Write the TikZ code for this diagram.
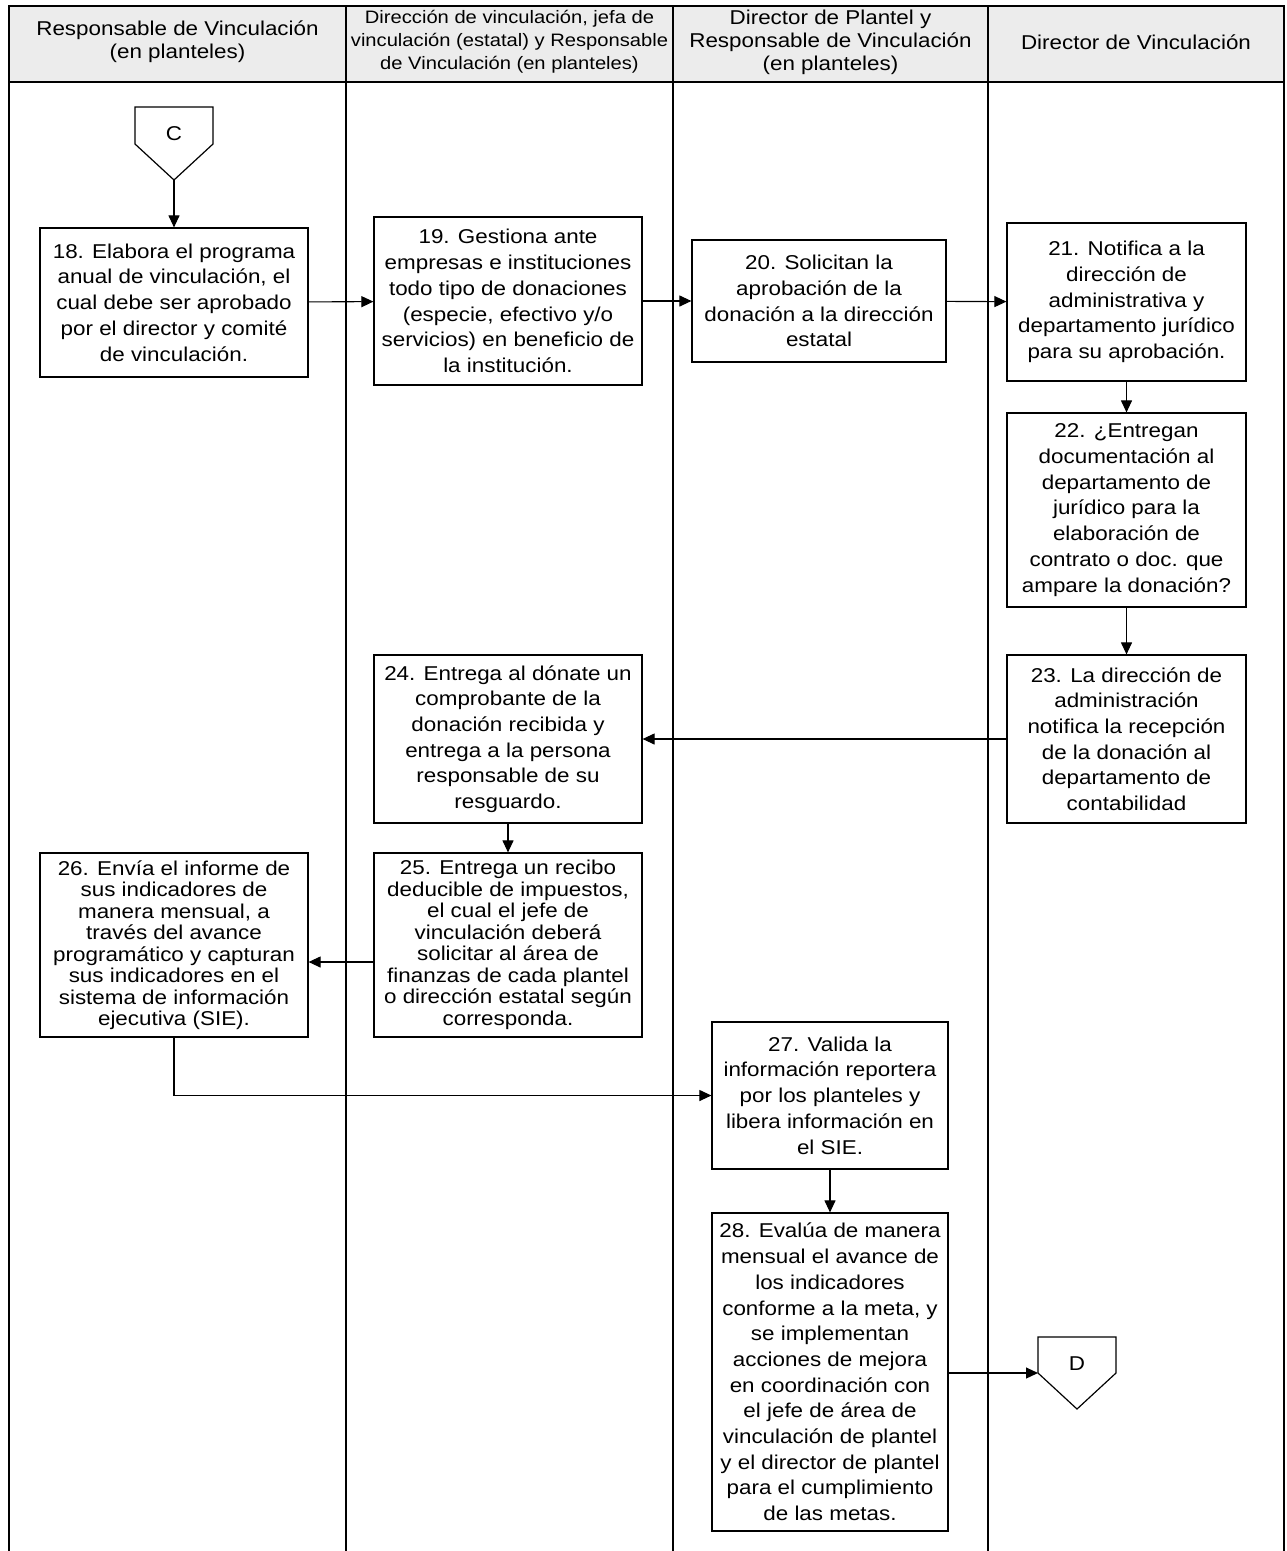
\documentclass[tikz,border=0pt]{standalone}
\usepackage{fontspec}
\setmainfont[FakeStretch=1.12]{Liberation Sans}
\usetikzlibrary{arrows.meta}

\begin{document}
\begin{tikzpicture}[x=1pt,y=-1pt,
  lane/.style={line width=1.4pt},
  head/.style={align=center, font=\fontsize{20}{23}\selectfont},
  act/.style={draw, line width=1.2pt, align=center, inner sep=0pt, font=\fontsize{20}{25.7}\selectfont},
  tight/.style={font=\fontsize{20}{21.5}\selectfont},
  offpage/.style={draw, line width=1.2pt, fill=white},
  arr/.style={line width=1.1pt, -{Triangle[length=12pt,width=11pt]}}]
\useasboundingbox (0,0) rectangle (1286,1551);
% swimlanes
\fill[gray!15] (9,6) rectangle (1284,82);
\draw[lane] (9,1551) -- (9,6) -- (1284,6) -- (1284,1551);
\draw[lane] (9,82) -- (1284,82);
\foreach \x in {346,673,988}
  \draw[lane] (\x,6) -- (\x,1551);
\node[head] (lane1) at (177.5,42) {Responsable de Vinculación\\(en planteles)};
\node[head, font=\fontsize{18}{23}\selectfont] (lane2) at (509.5,42) {Dirección de vinculación, jefa de\\vinculación (estatal) y Responsable\\de Vinculación (en planteles)};
\node[head] (lane3) at (830.5,42) {Director de Plantel y\\Responsable de Vinculación\\(en planteles)};
\node[head] (lane4) at (1136,42) {Director de Vinculación};
% connector C
\draw[offpage] (135,107) -- (213,107) -- (213,144) -- (174,180) -- (135,144) -- cycle;
\node[font=\fontsize{20}{23}\selectfont] (conC) at (174,134) {C};
\coordinate (conCtip) at (174,180);
% activities
\node[act, minimum width=268pt, minimum height=149pt] (act18) at (174,302.5) {18. Elabora el programa\\anual de vinculación, el\\cual debe ser aprobado\\por el director y comité\\de vinculación.};
\node[act, minimum width=268pt, minimum height=168pt] (act19) at (508,301) {19. Gestiona ante\\empresas e instituciones\\todo tipo de donaciones\\(especie, efectivo y/o\\servicios) en beneficio de\\la institución.};
\node[act, minimum width=254pt, minimum height=122pt] (act20) at (819,301) {20. Solicitan la\\aprobación de la\\donación a la dirección\\estatal};
\node[act, minimum width=239pt, minimum height=158pt] (act21) at (1126.5,302) {21. Notifica a la\\dirección de\\administrativa y\\departamento jurídico\\para su aprobación.};
\node[act, minimum width=239pt, minimum height=194pt] (act22) at (1126.5,510) {22. ¿Entregan\\documentación al\\departamento de\\jurídico para la\\elaboración de\\contrato o doc. que\\ampare la donación?};
\node[act, minimum width=239pt, minimum height=168pt] (act23) at (1126.5,739) {23. La dirección de\\administración\\notifica la recepción\\de la donación al\\departamento de\\contabilidad};
\node[act, minimum width=268pt, minimum height=168pt] (act24) at (508,739) {24. Entrega al dónate un\\comprobante de la\\donación recibida y\\entrega a la persona\\responsable de su\\resguardo.};
\node[act, tight, minimum width=268pt, minimum height=184pt] (act25) at (508,945) {25. Entrega un recibo\\deducible de impuestos,\\el cual el jefe de\\vinculación deberá\\solicitar al área de\\finanzas de cada plantel\\o dirección estatal según\\corresponda.};
\node[act, tight, minimum width=268pt, minimum height=184pt] (act26) at (174,945) {26. Envía el informe de\\sus indicadores de\\manera mensual, a\\través del avance\\programático y capturan\\sus indicadores en el\\sistema de información\\ejecutiva (SIE).};
\node[act, minimum width=236pt, minimum height=147pt] (act27) at (830,1095.5) {27. Valida la\\información reportera\\por los planteles y\\libera información en\\el SIE.};
\node[act, minimum width=236pt, minimum height=318pt] (act28) at (830,1372) {28. Evalúa de manera\\mensual el avance de\\los indicadores\\conforme a la meta, y\\se implementan\\acciones de mejora\\en coordinación con\\el jefe de área de\\vinculación de plantel\\y el director de plantel\\para el cumplimiento\\de las metas.};
% connector D
\draw[offpage] (1038,1337) -- (1116,1337) -- (1116,1373) -- (1077,1409) -- (1038,1373) -- cycle;
\node[font=\fontsize{20}{23}\selectfont] (conD) at (1077,1364) {D};
\coordinate (conDin) at (1038,1373);
% flow
\draw[arr] (conCtip) -- (act18);
\draw[arr] (act18) -- (act19);
\draw[arr] (act19) -- (act20);
\draw[arr] (act20) -- (act21);
\draw[arr] (act21) -- (act22);
\draw[arr] (act22) -- (act23);
\draw[arr] (act23) -- (act24);
\draw[arr] (act24) -- (act25);
\draw[arr] ([yshift=-17pt]act25.west) -- ([yshift=-17pt]act26.east);
\draw[arr] (act26.south) |- (act27.west);
\draw[arr] (act27) -- (act28);
\draw[arr] (act28.east |- conDin) -- (conDin);
\end{tikzpicture}
\end{document}
